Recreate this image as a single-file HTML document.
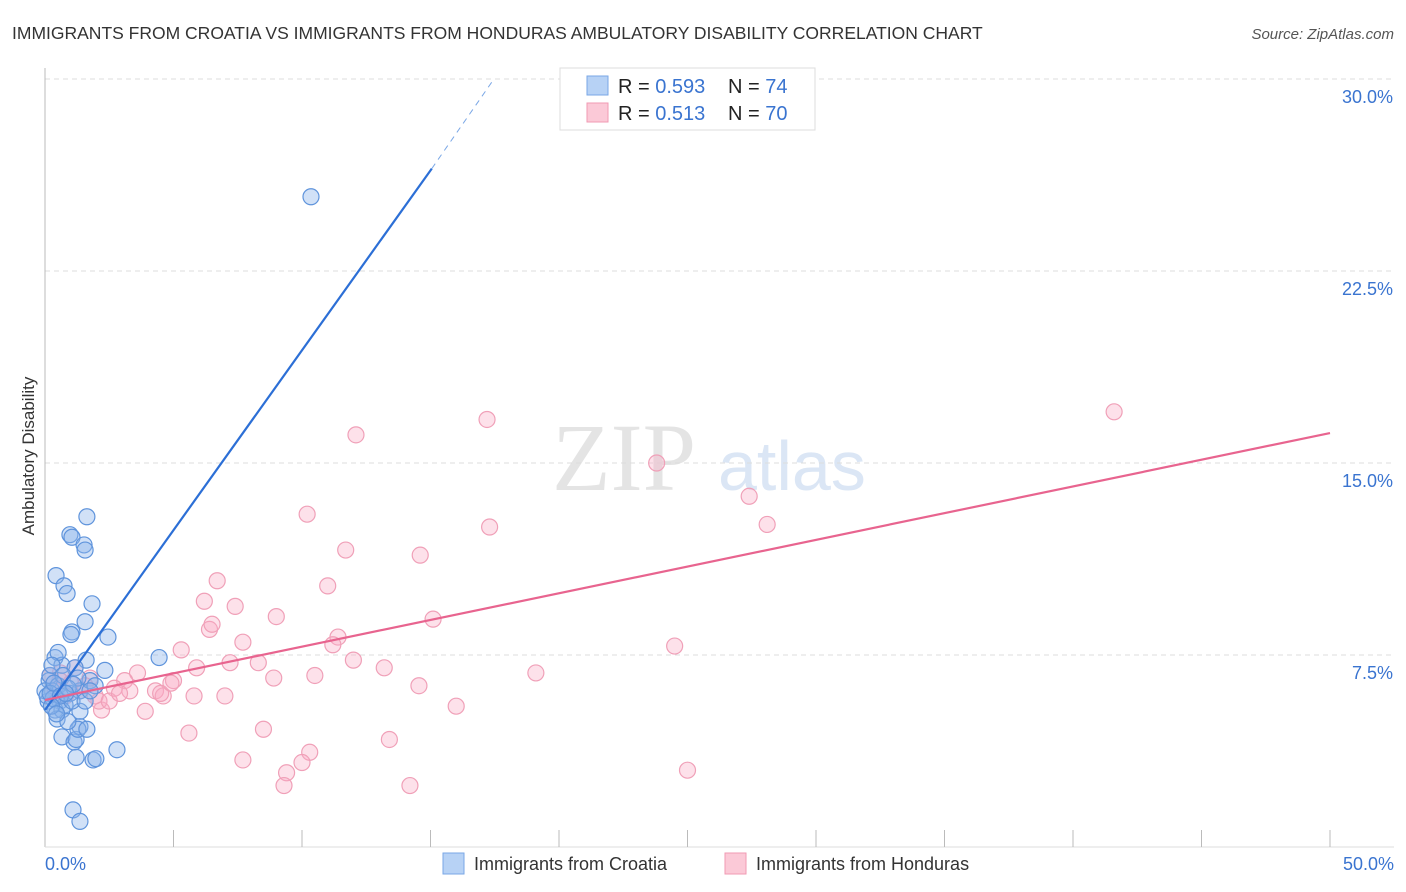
<!DOCTYPE html>
<html><head><meta charset="utf-8"><style>
body{margin:0;background:#fff;font-family:"Liberation Sans",sans-serif;}
svg{display:block}
</style></head><body>
<svg id="chart" width="1406" height="892" xmlns="http://www.w3.org/2000/svg">
<text x="12" y="39" font-size="17.5" fill="#333">IMMIGRANTS FROM CROATIA VS IMMIGRANTS FROM HONDURAS AMBULATORY DISABILITY CORRELATION CHART</text>
<text x="1394" y="39" font-size="15" fill="#555" font-style="italic" text-anchor="end">Source: ZipAtlas.com</text>
<g>
<text x="552" y="490" font-size="96" fill="#e4e4e4" font-family="Liberation Serif,serif">ZIP</text>
<text x="718" y="490" font-size="70" fill="#dbe6f5">atlas</text>
</g>
<g id="grid"></g>
<g id="axes"></g>
<text x="34" y="456" font-size="17" fill="#333" text-anchor="middle" transform="rotate(-90 34 456)">Ambulatory Disability</text>
<g id="pts"></g>
<g id="lines"></g>
<g>
<rect x="560" y="68" width="255" height="62" fill="#fff" stroke="#ddd"/>
<rect x="587" y="76" width="21" height="19" fill="#b7d2f5" stroke="#7aa7e6"/>
<rect x="587" y="103" width="21" height="19" fill="#fbc9d7" stroke="#f09ab3"/>
<text x="618" y="93" font-size="20" fill="#222">R = <tspan fill="#3a74d0">0.593</tspan></text>
<text x="728" y="93" font-size="20" fill="#222">N = <tspan fill="#3a74d0"> 74</tspan></text>
<text x="618" y="120" font-size="20" fill="#222">R = <tspan fill="#3a74d0"> 0.513</tspan></text>
<text x="728" y="120" font-size="20" fill="#222">N = <tspan fill="#3a74d0">70</tspan></text>
</g>
<g>
<rect x="443" y="853" width="21" height="21" fill="#b7d2f5" stroke="#7aa7e6"/>
<text x="474" y="870" font-size="18" fill="#333">Immigrants from Croatia</text>
<rect x="725" y="853" width="21" height="21" fill="#fbc9d7" stroke="#f09ab3"/>
<text x="756" y="870" font-size="18" fill="#333">Immigrants from Honduras</text>
</g>
</svg>
<script>
const yTicks=[7.5,15,22.5,30];
const yTickLabels=["7.5%","15.0%","22.5%","30.0%"];
const xTickLabels=["0.0%","50.0%"];
const croatiaX=[10.35,1.63,0.97,1.05,1.52,1.56,0.43,0.74,0.86,1.83,1.56,1.05,1.01,2.45,4.44,1.6,0.39,0.66,2.33,1.17,0.51,0.16,0.27,0.58,0.97,1.36,1.75,0.12,0.39,0.78,1.36,0.19,0.51,0,0.08,0.31,0.66,1.05,1.56,1.95,0.66,1.13,1.21,1.36,1.28,1.63,1.21,1.87,1.98,2.8,1.09,1.36,0.47,0.89,0.27,0.7,1.28,1.75,0.2,0.35,0.6,0.9,1.1,0.25,0.45,0.8];
const croatiaY=[25.4,12.9,12.2,12.1,11.8,11.6,10.6,10.2,9.9,9.5,8.8,8.4,8.3,8.2,7.4,7.3,7.4,7.1,6.9,7.0,7.6,6.5,6.1,5.7,6.0,6.1,6.5,5.7,5.35,5.55,5.3,6.7,6.3,6.1,5.9,5.8,5.35,5.7,5.7,6.3,4.3,4.1,4.2,4.7,4.6,4.6,3.5,3.4,3.45,3.8,1.45,1.0,5.0,4.9,7.1,6.7,6.6,6.1,6.0,6.4,5.9,6.2,6.35,5.5,5.2,6.0];
const hondurasX=[17.2,12.1,41.6,23.8,27.4,17.3,28.1,10.2,11.7,14.6,6.7,11.0,6.2,7.4,9.0,15.1,6.4,6.5,7.7,11.4,11.2,5.3,24.5,12.0,13.2,5.9,7.2,8.3,10.5,19.1,8.9,5.0,3.6,3.1,4.3,4.6,5.8,7.0,14.55,16.0,3.9,2.2,5.6,8.5,13.4,10.3,7.7,10.0,9.4,9.3,14.2,25.0,0.6,1.0,1.36,1.75,2.1,2.7,3.3,0.4,0.8,0.2,1.17,1.95,2.5,2.9,4.5,4.9,0.58,1.56];
const hondurasY=[16.7,16.1,17.0,15.0,13.7,12.5,12.6,13.0,11.6,11.4,10.4,10.2,9.6,9.4,9.0,8.9,8.5,8.7,8.0,8.2,7.9,7.7,7.85,7.3,7.0,7.0,7.2,7.2,6.7,6.8,6.6,6.5,6.8,6.5,6.1,5.9,5.9,5.9,6.3,5.5,5.3,5.35,4.45,4.6,4.2,3.7,3.4,3.3,2.9,2.4,2.4,3.0,6.8,6.4,6.1,6.6,5.7,6.2,6.1,6.1,5.9,6.7,7.0,5.9,5.7,6.0,6.0,6.4,6.5,6.3];
const croatiaTrend=[0,5.35,15.05,26.5,17.4,29.9];
const hondurasTrend=[0,5.74,50,16.17];
const NS="http://www.w3.org/2000/svg";
const X=v=>45+v*25.7, Y=v=>847-v*25.6;
function mk(tag,attrs,parent){const e=document.createElementNS(NS,tag);for(const k in attrs)e.setAttribute(k,attrs[k]);parent.appendChild(e);return e;}
const grid=document.getElementById('grid'),axes=document.getElementById('axes');
yTicks.forEach((t,i)=>{
  const l=mk('line',{x1:45,x2:1394,y1:Y(t),y2:Y(t),stroke:'#ddd','stroke-dasharray':'5,4'},grid);
  
  
  const tx=mk('text',{x:1393,y:Y(t)+24,'font-size':18,fill:'#3a74d0','text-anchor':'end'},axes);
  tx.textContent=yTickLabels[i];
  
  
});
const ax=mk('line',{x1:45,x2:45,y1:68,y2:847,stroke:'#bbb'},axes);


const bx=mk('line',{x1:45,x2:1394,y1:847,y2:847,stroke:'#ddd'},axes);


for(let i=1;i<=10;i++){const t=mk('line',{x1:X(i*5),x2:X(i*5),y1:830,y2:847,stroke:'#bbb'},axes);
  
  }
[[0,'start',45],[50,'end',1394]].forEach((a,i)=>{const t=mk('text',{x:a[2],y:870,'font-size':18,fill:'#3a74d0','text-anchor':a[1]},axes);t.textContent=xTickLabels[i];
  
  });
const pts=document.getElementById('pts');
hondurasX.forEach((x,i)=>{const c=mk('circle',{cx:X(x),cy:Y(hondurasY[i]),r:8,fill:'rgba(248,170,195,0.35)',stroke:'#f0a0b8','stroke-width':1.2},pts);
  
  });
croatiaX.forEach((x,i)=>{const c=mk('circle',{cx:X(x),cy:Y(croatiaY[i]),r:8,fill:'rgba(140,180,235,0.4)',stroke:'#5f94dc','stroke-width':1.2},pts);
  
  });
const lines=document.getElementById('lines');
const b1=mk('line',{x1:X(croatiaTrend[0]),y1:Y(croatiaTrend[1]),x2:X(croatiaTrend[2]),y2:Y(croatiaTrend[3]),stroke:'#2c6fd6','stroke-width':2.2},lines);


const b2=mk('line',{x1:X(croatiaTrend[2]),y1:Y(croatiaTrend[3]),x2:X(croatiaTrend[4]),y2:Y(croatiaTrend[5]),stroke:'#7aa7e6','stroke-width':1,'stroke-dasharray':'6,5'},lines);


const p1=mk('line',{x1:X(hondurasTrend[0]),y1:Y(hondurasTrend[1]),x2:X(hondurasTrend[2]),y2:Y(hondurasTrend[3]),stroke:'#e8648f','stroke-width':2.2},lines);


</script>
</body></html>
